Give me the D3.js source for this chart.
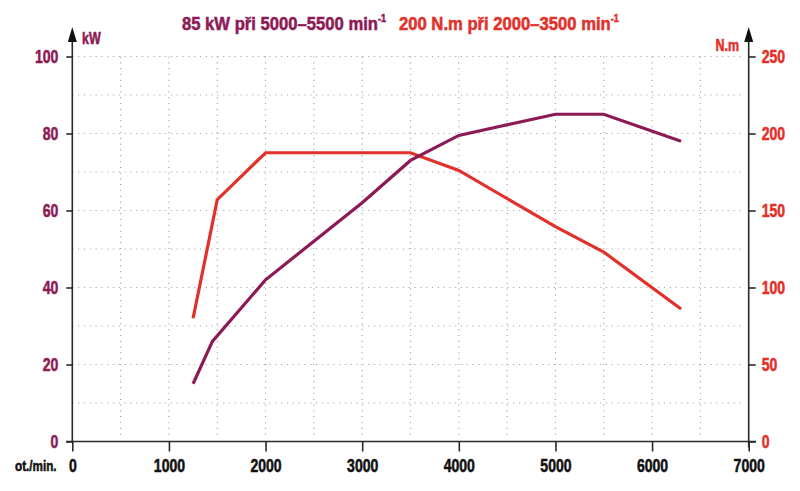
<!DOCTYPE html>
<html><head><meta charset="utf-8">
<script src="https://cdn.jsdelivr.net/npm/d3@7"></script>
<style>
body{margin:0;background:#fff;}
text{font-family:"Liberation Sans",Arial,sans-serif;font-weight:bold;stroke-width:0.55px;paint-order:stroke;}
</style></head>
<body><svg id="c" width="800" height="491"></svg>
<script>
const rpmTicks = [0,1000,2000,3000,4000,5000,6000,7000];
const kwTicks = [0,20,40,60,80,100];
const nmTicks = [0,50,100,150,200,250];
const powerRpm = [1250,1450,2000,3000,3500,4000,5000,5500,6300];
const powerKw  = [15,26,42,62,73,79.5,85,85,78];
const torqueRpm = [1250,1500,2000,3500,4000,5000,5500,6300];
const torqueNm  = [80,157,187.5,187.5,176,139.5,123,86];

const purple = "#8c1a55", red = "#e2302a", axisCol = "#2a2a2a", gridCol = "#a8a8a8";
const svg = d3.select("#c");
const x = d3.scaleLinear().domain([0,7000]).range([72.3,748.7]);
const yL = d3.scaleLinear().domain([0,100]).range([441.5,56.5]);
const yR = d3.scaleLinear().domain([0,250]).range([441.5,56.5]);

function narrow(sel,k){
  k = k || 0.78;
  sel.each(function(){
    const t = d3.select(this);
    const tx = +t.attr("x") || 0, ty = +t.attr("y") || 0;
    t.attr("x",0).attr("y",0).attr("transform",`translate(${tx},${ty}) scale(${k},1)`);
    t.attr("stroke",t.attr("fill"));
  });
}

// grid
const g = svg.append("g");
g.selectAll("line.h").data(d3.range(10,101,10)).join("line")
  .attr("x1",72.3).attr("x2",745).attr("y1",d=>yL(d)).attr("y2",d=>yL(d))
  .attr("stroke",gridCol).attr("stroke-width",1.2).attr("stroke-dasharray","1.2,4.6");
g.selectAll("line.v").data(d3.range(500,7000,500)).join("line")
  .attr("y1",yL(100)).attr("y2",yL(0)-3).attr("x1",d=>x(d)).attr("x2",d=>x(d))
  .attr("stroke",gridCol).attr("stroke-width",1.2).attr("stroke-dasharray","1.2,4.6");

// axes
const fs = 18;
const bottom = svg.append("g").attr("transform",`translate(0,${yL(0)})`)
  .call(d3.axisBottom(x).tickValues(rpmTicks).tickSize(10).tickSizeOuter(0).tickPadding(8).tickFormat(d3.format("d")));
bottom.select(".domain").attr("d",`M66,0H756`);
const left = svg.append("g").attr("transform",`translate(${x(0)},0)`)
  .call(d3.axisLeft(yL).tickValues(kwTicks).tickSize(6).tickSizeOuter(0).tickPadding(8));
left.select(".domain").attr("d",`M0,${yL(0)}V36`);
const right = svg.append("g").attr("transform",`translate(${x(7000)},0)`)
  .call(d3.axisRight(yR).tickValues(nmTicks).tickSize(7).tickSizeOuter(0).tickPadding(6));
right.select(".domain").attr("d",`M0,${yR(0)+6}V36`);
bottom.selectAll("text").attr("fill","#111");
left.selectAll("text").attr("fill",purple);
right.selectAll("text").attr("fill",red);
[bottom,left,right].forEach(a=>{
  a.selectAll(".domain").attr("stroke",axisCol).attr("stroke-width",1.6);
  a.selectAll(".tick line").attr("stroke",axisCol).attr("stroke-width",1.6);
  a.selectAll("text").attr("font-size",fs).attr("font-family",null);
  narrow(a.selectAll("text"));
});
// arrows
[x(0),x(7000)].forEach(cx=>{
  svg.append("path").attr("d",`M${cx},27L${cx-4.5},42L${cx+4.5},42Z`).attr("fill","#111");
});

// lines
const lineP = d3.line().x(d=>x(d[0])).y(d=>yL(d[1]));
const lineT = d3.line().x(d=>x(d[0])).y(d=>yR(d[1]));
svg.append("path").datum(torqueRpm.map((r,i)=>[r,torqueNm[i]])).attr("d",lineT)
  .attr("fill","none").attr("stroke",red).attr("stroke-width",3.2);
svg.append("path").datum(powerRpm.map((r,i)=>[r,powerKw[i]])).attr("d",lineP)
  .attr("fill","none").attr("stroke",purple).attr("stroke-width",3.2);

// labels
narrow(svg.append("text").attr("x",82).attr("y",43.5).attr("font-size",16).attr("fill",purple).text("kW"));
narrow(svg.append("text").attr("x",739).attr("y",50.5).attr("text-anchor","end").attr("font-size",16).attr("fill",red).text("N.m"));
narrow(svg.append("text").attr("x",15).attr("y",471).attr("font-size",15).attr("fill","#111").text("ot./min."));

const t1 = svg.append("text").attr("x",182).attr("y",29.5).attr("font-size",18.5).attr("fill",purple);
t1.append("tspan").text("85 kW při 5000–5500 min");
t1.append("tspan").attr("font-size",10).attr("dy",-8).text("-1");
narrow(t1,0.9);
const t2 = svg.append("text").attr("x",399).attr("y",29.5).attr("font-size",18.5).attr("fill",red);
t2.append("tspan").text("200 N.m při 2000–3500 min");
t2.append("tspan").attr("font-size",10).attr("dy",-8).text("-1");
narrow(t2,0.9);
</script></body></html>
